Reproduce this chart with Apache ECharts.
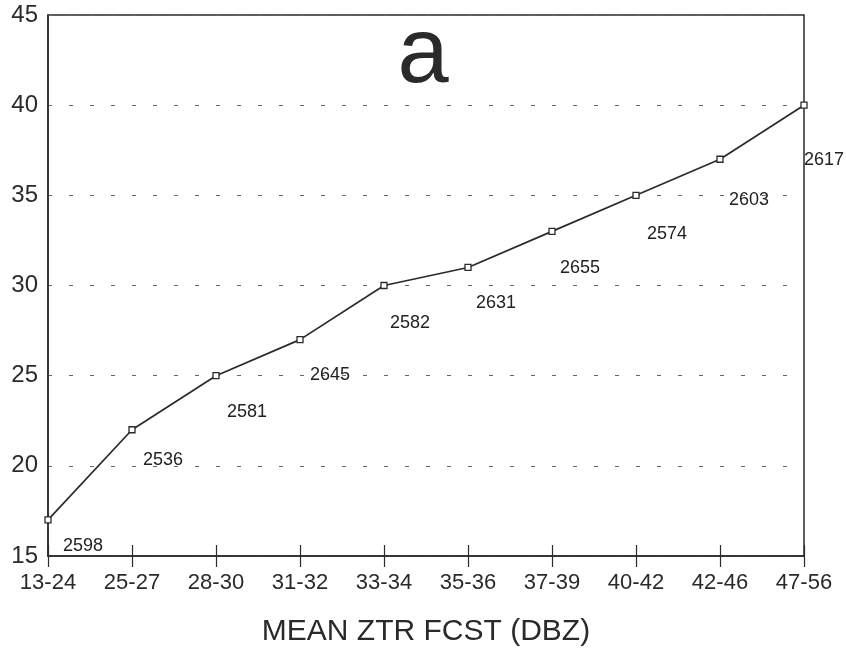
<!DOCTYPE html>
<html>
<head>
<meta charset="utf-8">
<script src="https://cdn.jsdelivr.net/npm/echarts@6/dist/echarts.min.js"></script>
<style>html,body{margin:0;padding:0;background:#fff}#c{width:846px;height:652px}</style>
</head>
<body>
<div id="c"></div>
<script>
var categories = ['13-24','25-27','28-30','31-32','33-34','35-36','37-39','40-42','42-46','47-56'];
var values = [17, 22, 25, 27, 30, 31, 33, 35, 37, 40];
var counts = ['2598','2536','2581','2645','2582','2631','2655','2574','2603','2617'];
var yTicks = {min: 15, max: 45, interval: 5};
var xName = 'MEAN ZTR FCST (DBZ)';
var panelLabel = 'a';
// label placement (style only)
var labelOffsets = [[35,26],[31,30],[31,36],[30,35],[26,38],[28,36],[28,37],[31,39],[29,41],[20,55]];

var ink = '#2a2a2a';
var font = 'Liberation Sans, Arial, sans-serif';
var chart = echarts.init(document.getElementById('c'));
chart.setOption({
  backgroundColor: '#fff',
  animation: false,
  title: {
    text: panelLabel, left: 'center', top: 6,
    textStyle: {fontSize: 92, fontWeight: 'normal', color: ink, fontFamily: font}
  },
  grid: {left: 48, right: 42, top: 15, bottom: 96, show: true, borderColor: ink, borderWidth: 1.5, backgroundColor: 'transparent'},
  xAxis: [{
    type: 'category', data: categories, boundaryGap: false,
    axisLine: {lineStyle: {color: ink, width: 1.5}},
    axisTick: {show: true, length: 11, alignWithLabel: true, lineStyle: {color: ink, width: 1.2}},
    axisLabel: {color: ink, fontSize: 22, fontFamily: font, margin: 16, interval: 0},
    name: xName, nameLocation: 'middle', nameGap: 61,
    nameTextStyle: {color: ink, fontSize: 30, fontFamily: font},
    splitLine: {show: false}
  }, {
    type: 'category', data: categories, boundaryGap: false, position: 'bottom',
    axisLine: {show: false},
    axisTick: {show: true, inside: true, length: 11, lineStyle: {color: ink, width: 1.2}},
    axisLabel: {show: false}, splitLine: {show: false}
  }],
  yAxis: {
    type: 'value', min: yTicks.min, max: yTicks.max, interval: yTicks.interval,
    axisLine: {show: true, lineStyle: {color: ink, width: 1.5}},
    axisTick: {show: false},
    axisLabel: {color: ink, fontSize: 24, fontFamily: font, margin: 10},
    splitLine: {show: true, lineStyle: {color: '#666', width: 1, type: [4, 17]}}
  },
  series: [{
    type: 'line', xAxisIndex: 0,
    data: values.map(function (v, i) {
      return {value: v, label: {offset: labelOffsets[i], formatter: counts[i]}};
    }),
    symbol: 'rect', symbolSize: 6, showAllSymbol: true,
    lineStyle: {color: ink, width: 1.7},
    itemStyle: {color: '#fff', borderColor: ink, borderWidth: 1.3},
    label: {show: true, position: 'inside', color: '#222', fontSize: 18, fontFamily: font},
    z: 5
  }]
});
</script>
</body>
</html>
